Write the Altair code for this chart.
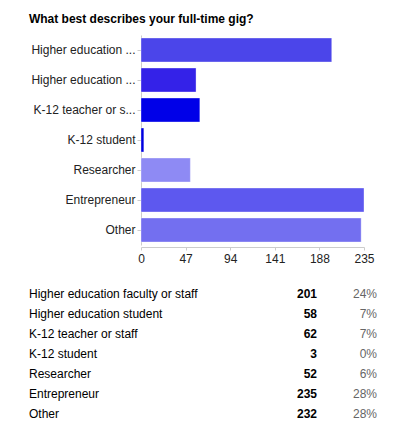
import altair as alt
import pandas as pd

title = "What best describes your full-time gig?"
categories = [
    "Higher education faculty or staff",
    "Higher education student",
    "K-12 teacher or staff",
    "K-12 student",
    "Researcher",
    "Entrepreneur",
    "Other",
]
counts = [201, 58, 62, 3, 52, 235, 232]
percents = ["24%", "7%", "7%", "0%", "6%", "28%", "28%"]
x_ticks = [0, 47, 94, 141, 188, 235]
bar_colors = ["#4b45ea", "#3422e8", "#0000e8", "#0000e0", "#8e8af4", "#5d58ef", "#736ff0"]

df = pd.DataFrame({"cat": categories, "count": counts, "pct": percents})

FONT = "Liberation Sans"

bars = alt.Chart(df).mark_bar(strokeWidth=1, strokeOpacity=0.35, stroke="#ffffff").encode(
    x=alt.X("count:Q",
            scale=alt.Scale(domain=[0, 235], nice=False),
            axis=alt.Axis(values=x_ticks, title=None, grid=False, labelFontSize=12,
                          labelColor="#222222", labelFont=FONT, domainColor="#cccccc",
                          tickColor="#cccccc", tickSize=3, labelPadding=3, offset=2,
                          labelFlush=False)),
    y=alt.Y("cat:N", sort=categories,
            scale=alt.Scale(paddingInner=0.2, paddingOuter=0.1),
            axis=alt.Axis(title=None, labelFontSize=12, labelColor="#222222", labelFont=FONT,
                          domainColor="#cccccc", tickColor="#cccccc", tickSize=4,
                          labelPadding=2, labelLimit=200,
                          labelExpr="length(datum.label) > 20 ? substring(datum.label, 0, 17) + '...' : datum.label")),
    color=alt.Color("cat:N", scale=alt.Scale(domain=categories, range=bar_colors), legend=None),
).properties(
    width=223, height=210,
    title=alt.TitleParams(title, anchor="start", fontSize=12, font=FONT, fontWeight="bold",
                          color="#000000", offset=9, dx=-2),
)

base = alt.Chart(df).encode(y=alt.Y("cat:N", sort=categories, axis=None,
                                    scale=alt.Scale(paddingInner=0, paddingOuter=0)))
t_label = base.mark_text(align="left", fontSize=12, font=FONT, color="#000000").encode(
    x=alt.value(-112), text="cat:N")
t_count = base.mark_text(align="right", fontSize=12, font=FONT, fontWeight="bold", color="#000000").encode(
    x=alt.value(176), text="count:Q")
t_pct = base.mark_text(align="right", fontSize=12, font=FONT, color="#666666").encode(
    x=alt.value(236), text="pct:N")
table = alt.layer(t_label, t_count, t_pct).properties(width=223, height=140)

chart = alt.vconcat(bars, table, spacing=20).properties(
    padding={"left": 20, "top": 5, "right": 5, "bottom": 5}
).configure_view(stroke=None)

chart.save("out.html", embed_options={"renderer": "svg", "actions": False})
